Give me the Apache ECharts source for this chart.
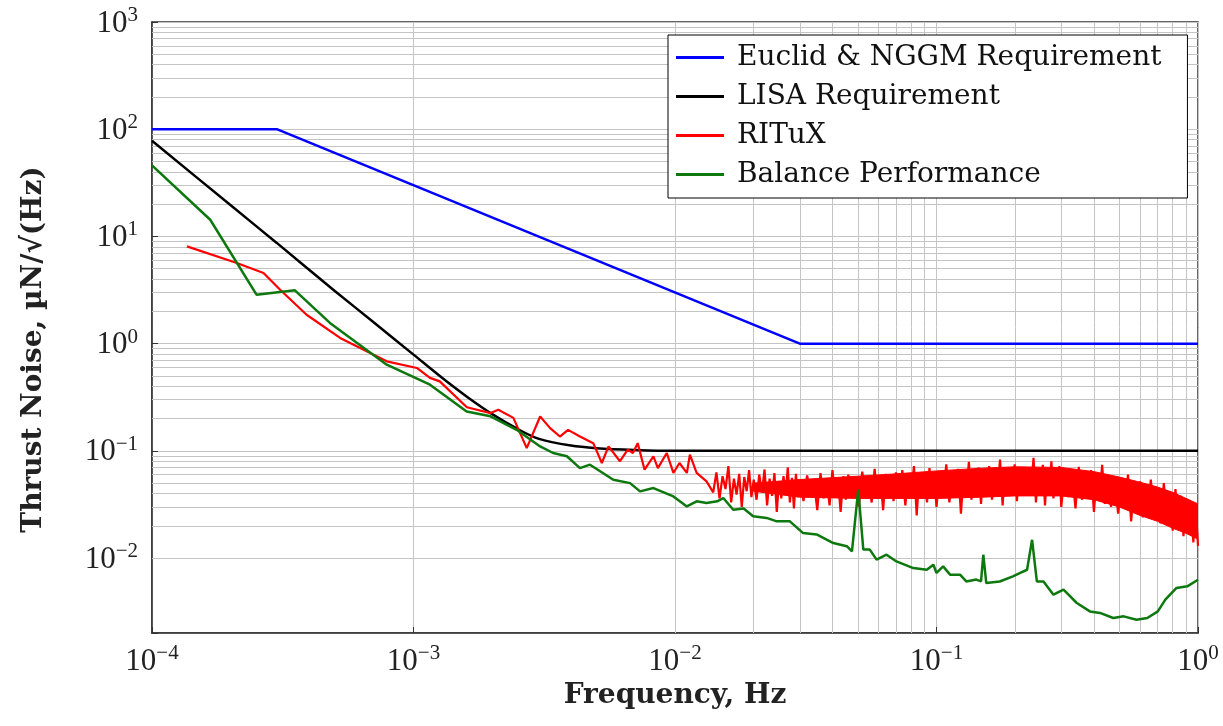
<!DOCTYPE html>
<html><head><meta charset="utf-8">
<script src="https://cdn.jsdelivr.net/npm/echarts@6/dist/echarts.min.js"></script>
<style>html,body{margin:0;padding:0;background:#fff;}#c{width:1223px;height:726px;}</style>
</head><body><div id="c"></div>
<script>
const seriesNames = ['Euclid & NGGM Requirement', 'LISA Requirement', 'RITuX', 'Balance Performance'];
const seriesColors = ['#0000ff', '#000000', '#ff0000', '#0d780d'];

const euclidReq = [[1e-4,100],[3e-4,100],[3e-2,1],[1,1]];
const lisaReq = [[1e-4,78],[2e-4,19.5],[3e-4,8.7],[5e-4,3.1],[7e-4,1.6],[1e-3,0.79],[1.3e-3,0.47],[1.6e-3,0.32],[2e-3,0.22],[2.5e-3,0.16],[3e-3,0.13],[4e-3,0.112],[5e-3,0.106],[7e-3,0.102],[1e-2,0.1],[1,0.1]];

const rituxLow = [[1.36e-4,8.07],[2.11e-4,5.65],[2.67e-4,4.56],[3.09e-4,3.18],[3.9e-4,1.86],[5.24e-4,1.13],[7.9e-4,0.684],[1.03e-3,0.593],[1.156e-3,0.479],[1.26e-3,0.445],[1.6e-3,0.255],[1.97e-3,0.225],[2.11e-3,0.242],[2.41e-3,0.203],[2.71e-3,0.106],[3.05e-3,0.209],[3.33e-3,0.163],[3.63e-3,0.136],[3.9e-3,0.157],[4.33e-3,0.136],[4.87e-3,0.118],[5.25e-3,0.077],[5.57e-3,0.110],[6.16e-3,0.080],[6.6e-3,0.1026],[6.9e-3,0.0955],[7.2e-3,0.118],[7.65e-3,0.0667],[8.27e-3,0.089],[8.6e-3,0.069],[9.3e-3,0.0955],[9.86e-3,0.0622],[1.04e-2,0.077],[1.11e-2,0.0622],[1.14e-2,0.092],[1.21e-2,0.0622],[1.32e-2,0.0519]];

const rituxNoiseFreq = [
0.0140,0.0144,0.0148,0.0152,0.0156,0.0160,0.0164,0.0168,0.0172,0.0176,0.0180,0.0184,0.0188,0.0192,0.0196,0.0200,
0.0205,0.0210,0.0215,0.0220,0.0225,0.0230,0.0235,0.0240,0.0245,0.0250,0.0255,0.0260,0.0265,0.0270,0.0275,0.0280,0.0285,0.0290,0.0295,0.0300,
0.031,0.032,0.033,0.034,0.035,0.036,0.037,0.038,0.039,0.040,0.041,0.042,0.043,0.044,0.045,
0.0460,0.0475,0.0490,0.0505,0.0520,0.0535,0.0550,0.0565,0.0580,0.0595,0.0610,0.0625,0.0640,0.0655,0.0670,0.0685,0.0700,
0.072,0.074,0.076,0.078,0.080,0.082,0.084,0.086,0.088,0.090,0.092,0.094,0.096,0.098,0.100,
0.103,0.106,0.109,0.112,0.115,0.118,0.121,0.124,0.127,0.130,0.133,0.136,0.139,0.142,0.145,0.148,0.151,
0.155,0.159,0.163,0.167,0.171,0.175,0.179,0.183,0.187,0.191,0.195,0.199,0.203,0.207,0.211,0.215,
0.220,0.225,0.230,0.235,0.240,0.245,0.250,0.255,0.260,0.265,0.270,0.275,0.280,0.285,0.290,0.295,0.300,
0.31,0.32,0.33,0.34,0.35,0.36,0.37,0.38,0.39,0.40,0.41,0.42,0.43,0.44,0.45,
0.465,0.480,0.495,0.510,0.525,0.540,0.555,0.570,0.585,0.600,0.615,0.630,0.645,
0.66,0.68,0.70,0.72,0.74,0.76,0.78,0.80,0.82,0.84,0.86,0.88,0.90,0.92,0.94,0.96,0.98,1.00];
const rituxNoiseVal = [
0.041,0.063,0.036,0.058,0.044,0.072,0.033,0.055,0.039,0.061,0.030,0.057,0.042,0.066,0.037,0.054,
0.035,0.060,0.041,0.067,0.031,0.055,0.038,0.062,0.027,0.052,0.036,0.058,0.040,0.070,0.033,0.056,0.029,0.061,0.037,0.054,
0.034,0.059,0.040,0.052,0.028,0.062,0.036,0.055,0.031,0.066,0.038,0.053,0.027,0.058,0.035,
0.060,0.037,0.056,0.030,0.064,0.039,0.052,0.033,0.068,0.036,0.057,0.028,0.061,0.040,0.055,0.034,0.063,
0.036,0.066,0.031,0.058,0.040,0.072,0.025,0.060,0.037,0.054,0.033,0.069,0.039,0.057,0.030,
0.064,0.038,0.075,0.033,0.060,0.041,0.068,0.026,0.062,0.039,0.079,0.035,0.058,0.042,0.070,0.032,0.065,
0.040,0.072,0.035,0.063,0.043,0.083,0.031,0.066,0.039,0.060,0.044,0.075,0.034,0.068,0.041,0.062,
0.038,0.070,0.044,0.086,0.033,0.064,0.040,0.074,0.031,0.066,0.042,0.080,0.036,0.061,0.039,0.072,0.030,
0.068,0.037,0.062,0.029,0.071,0.035,0.058,0.040,0.066,0.027,0.060,0.036,0.074,0.032,0.057,
0.030,0.055,0.026,0.050,0.033,0.060,0.022,0.047,0.028,0.052,0.024,0.045,0.029,
0.054,0.025,0.046,0.021,0.050,0.024,0.042,0.018,0.044,0.020,0.038,0.016,0.036,0.019,0.033,0.014,0.031,0.013];

// dense core of the RITuX noise band (where the trace fills solid)
const rituxCoreFreq = [0.02, 0.03, 0.05, 0.07, 0.1, 0.15, 0.2, 0.3, 0.4, 0.5, 0.6, 0.7, 0.8, 0.9, 1.0];
const rituxCoreLo   = [0.042, 0.037, 0.036, 0.036, 0.036, 0.037, 0.038, 0.038, 0.035, 0.030, 0.025, 0.022, 0.019, 0.017, 0.015];
const rituxCoreHi   = [0.050, 0.054, 0.058, 0.061, 0.065, 0.069, 0.071, 0.070, 0.064, 0.057, 0.051, 0.046, 0.041, 0.036, 0.032];

const balance = [[1e-4,46],[1.67e-4,14.3],[2.51e-4,2.86],[3.52e-4,3.14],[4.79e-4,1.56],[7.9e-4,0.637],[1.156e-3,0.414],[1.597e-3,0.233],[1.97e-3,0.21],[2.48e-3,0.157],[3.05e-3,0.11],[3.42e-3,0.0955],[3.86e-3,0.089],[4.33e-3,0.069],[4.73e-3,0.0743],[5.81e-3,0.0538],[6.73e-3,0.05],[7.35e-3,0.0419],[8.27e-3,0.045],[9.86e-3,0.0376],[1.11e-2,0.0303],[1.21e-2,0.0338],[1.32e-2,0.0327],[1.45e-2,0.0338],[1.53e-2,0.0363],[1.67e-2,0.0282],[1.83e-2,0.029],[1.99e-2,0.0245],[2.24e-2,0.0237],[2.45e-2,0.022],[2.75e-2,0.022],[3.09e-2,0.0171],[3.48e-2,0.0166],[4.03e-2,0.0138],[4.54e-2,0.0129],[4.75e-2,0.01155],[5.02e-2,0.0435],[5.25e-2,0.012],[5.56e-2,0.012],[5.9e-2,0.00966],[6.44e-2,0.01074],[7.03e-2,0.0093],[8.15e-2,0.00807],[9.18e-2,0.00778],[9.73e-2,0.00867],[0.1,0.00726],[0.106,0.00836],[0.1127,0.007],[0.123,0.007],[0.13,0.00605],[0.142,0.0063],[0.148,0.00605],[0.151,0.01074],[0.155,0.00585],[0.1745,0.00605],[0.196,0.00675],[0.209,0.00726],[0.222,0.00778],[0.232,0.0148],[0.242,0.00605],[0.2565,0.00605],[0.28,0.00455],[0.306,0.00507],[0.344,0.00381],[0.386,0.00318],[0.422,0.00308],[0.474,0.00276],[0.52,0.00286],[0.582,0.00266],[0.64,0.00276],[0.702,0.00318],[0.75,0.00409],[0.8275,0.00526],[0.91,0.00545],[1.0,0.00628]];

const xDecadeExps = [-4,-3,-2,-1,0];
const yDecadeExps = [-2,-1,0,1,2,3];
const minorMantissas = [2,3,4,5,6,7,8,9];
const xMinorDecades = [-4,-3,-2,-1];
const yMinorDecades = [-3,-2,-1,0,1,2];

const rituxData = rituxLow.concat(rituxNoiseFreq.map((f,i)=>[f, rituxNoiseVal[i]]));
const coreItems = rituxCoreFreq.map((f,i)=>[f, rituxCoreLo[i], rituxCoreHi[i]]);

const gridColor = '#c4c4c4';
const minorLines = [];
xMinorDecades.forEach(e => minorMantissas.forEach(m => minorLines.push({xAxis: m*Math.pow(10,e)})));
yMinorDecades.forEach(e => minorMantissas.forEach(m => {
  const v = m*Math.pow(10,e);
  if (v > 0.0021) minorLines.push({yAxis: v});
}));

function powLabel(exps){
  return function(v){
    const l = Math.log10(v);
    const e = Math.round(l);
    if (Math.abs(l-e) > 1e-6 || exps.indexOf(e) < 0) return '';
    return '{b|10}{s|' + (e < 0 ? '\u2212' + (-e) : e) + '}';
  };
}
const labelRich = {
  b: {fontFamily: 'Liberation Serif', fontSize: 31, color: '#222', verticalAlign: 'bottom', lineHeight: 34},
  s: {fontFamily: 'Liberation Serif', fontSize: 21, color: '#222', verticalAlign: 'top', lineHeight: 26}
};

function renderCore(params, api){
  if (params.dataIndex !== 0) return null;
  const pts = [];
  for (let i = 0; i < coreItems.length; i++) pts.push(api.coord([coreItems[i][0], coreItems[i][2]]));
  for (let i = coreItems.length - 1; i >= 0; i--) pts.push(api.coord([coreItems[i][0], coreItems[i][1]]));
  return {type: 'polygon', shape: {points: pts}, style: {fill: seriesColors[2], stroke: seriesColors[2], lineWidth: 1}};
}

const chart = echarts.init(document.getElementById('c'), null, {renderer: 'canvas'});
chart.setOption({
  animation: false,
  backgroundColor: '#fff',
  grid: {left: 152, right: 25, top: 22, bottom: 93, show: true, borderColor: '#333', borderWidth: 1.5, backgroundColor: 'transparent'},
  legend: {
    data: seriesNames,
    orient: 'vertical', left: 668, top: 35,
    icon: 'rect', itemWidth: 48, itemHeight: 3, itemGap: 8,
    padding: [7, 26, 8, 8],
    borderColor: '#000', borderWidth: 1, backgroundColor: '#fff',
    textStyle: {fontFamily: 'DejaVu Serif', fontSize: 28, color: '#111', lineHeight: 31, padding: [0,0,0,8]},
    selectedMode: false
  },
  xAxis: {
    type: 'log', logBase: 10, min: 1e-4, max: 1,
    name: 'Frequency, Hz', nameLocation: 'middle', nameGap: 47,
    nameTextStyle: {fontFamily: 'DejaVu Serif', fontWeight: 'bold', fontSize: 28, color: '#222'},
    axisLine: {show: true, lineStyle: {color: '#333', width: 1.5}},
    axisTick: {show: true, inside: true, length: 6, lineStyle: {color: '#333'}},
    splitLine: {show: true, lineStyle: {color: gridColor, width: 1}},
    axisLabel: {formatter: powLabel(xDecadeExps), rich: labelRich, margin: 10, showMinLabel: true, showMaxLabel: true}
  },
  yAxis: {
    type: 'log', logBase: 10, min: 0.002, max: 1000,
    name: 'Thrust Noise, \u00b5N/\u221a(Hz)', nameLocation: 'middle', nameGap: 104, nameRotate: 90,
    nameTextStyle: {fontFamily: 'DejaVu Serif', fontWeight: 'bold', fontSize: 28, color: '#222', padding: [0, 44, 0, 0]},
    axisLine: {show: true, lineStyle: {color: '#333', width: 1.5}},
    axisTick: {show: true, inside: true, length: 6, lineStyle: {color: '#333'}},
    splitLine: {show: true, lineStyle: {color: gridColor, width: 1}},
    axisLabel: {formatter: powLabel(yDecadeExps), rich: labelRich, margin: 14}
  },
  series: [
    {
      name: 'gridHelper', type: 'line', data: [[1e-4, 1]], showSymbol: false, symbol: 'none',
      lineStyle: {opacity: 0}, silent: true, z: 1,
      markLine: {silent: true, symbol: 'none', z: 1, animation: false,
        label: {show: false}, emphasis: {disabled: true},
        lineStyle: {color: gridColor, width: 1, type: 'solid'}, data: minorLines}
    },
    {name: seriesNames[0], type: 'line', data: euclidReq, symbol: 'none', lineStyle: {color: seriesColors[0], width: 2.5}, itemStyle: {color: seriesColors[0]}, z: 3},
    {name: seriesNames[1], type: 'line', data: lisaReq, symbol: 'none', smooth: 0.3, lineStyle: {color: seriesColors[1], width: 2.5}, itemStyle: {color: seriesColors[1]}, z: 3},
    {name: 'rituxCore', type: 'custom', data: coreItems, encode: {x: 0, y: [1, 2]}, renderItem: renderCore, silent: true, z: 3, clip: true},
    {name: seriesNames[2], type: 'line', data: rituxData, symbol: 'none', lineStyle: {color: seriesColors[2], width: 2.2}, itemStyle: {color: seriesColors[2]}, z: 3},
    {name: seriesNames[3], type: 'line', data: balance, symbol: 'none', lineStyle: {color: seriesColors[3], width: 2.5}, itemStyle: {color: seriesColors[3]}, z: 3}
  ]
});
</script>
</body></html>
